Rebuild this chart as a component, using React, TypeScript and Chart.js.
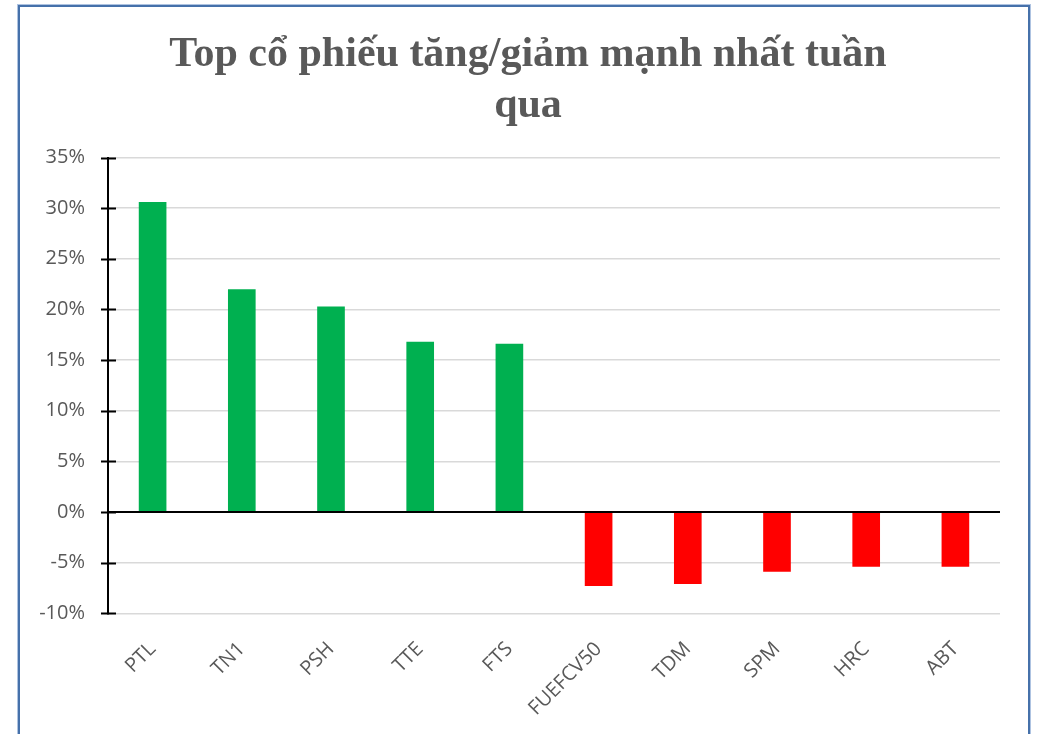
import { useEffect, useRef } from 'react';
import { Chart, registerables } from 'chart.js';

Chart.register(...registerables);

const categories = ['PTL', 'TN1', 'PSH', 'TTE', 'FTS', 'FUEFCV50', 'TDM', 'SPM', 'HRC', 'ABT'];
const changes = [30.6, 22.0, 20.3, 16.8, 16.6, -7.3, -7.1, -5.9, -5.4, -5.4];
const titleLines = ['Top cổ phiếu tăng/giảm mạnh nhất tuần', 'qua'];
const yMin = -10;
const yMax = 35;
const yStep = 5;

const UP = '#00B050';
const DOWN = '#FF0000';
const TEXT = '#595959';
const FONT = '"Open Sans", "Noto Sans", sans-serif';

const tickMarks = {
  id: 'tickMarks',
  afterLayout(chart: any) {
    const t = chart.titleBlock;
    if (t) {
      t.left += 56;
      t.width = t.right - t.left;
    }
  },
  afterDraw(chart: any) {
    const y = chart.scales.y;
    const x0 = chart.chartArea.left;
    const ctx = chart.ctx;
    ctx.save();
    ctx.strokeStyle = '#000';
    ctx.lineWidth = 2;
    y.ticks.forEach((t: any) => {
      const py = Math.round(y.getPixelForValue(t.value)) + 0.5;
      ctx.beginPath();
      ctx.moveTo(x0 - 7, py);
      ctx.lineTo(x0 + 8, py);
      ctx.stroke();
    });
    ctx.restore();
  },
};

export default function App() {
  const ref = useRef<HTMLCanvasElement>(null);
  useEffect(() => {
    if (!ref.current) return;
    const chart = new Chart(ref.current, {
      type: 'bar',
      data: {
        labels: categories,
        datasets: [
          {
            data: changes,
            backgroundColor: changes.map((v) => (v >= 0 ? UP : DOWN)),
            borderWidth: 0,
            barPercentage: 0.31,
            categoryPercentage: 1,
          },
        ],
      },
      options: {
        responsive: false,
        animation: false,
        devicePixelRatio: 1,
        layout: { padding: { left: 0, right: 38, top: 0, bottom: 0 } },
        plugins: {
          legend: { display: false },
          tooltip: { enabled: false },
          title: {
            display: true,
            text: titleLines,
            color: TEXT,
            font: { family: '"Liberation Serif", "Times New Roman", serif', size: 42, weight: 'bold', lineHeight: 51 / 42 },
            padding: { top: 30, bottom: 25.5 },
          },
        },
        scales: {
          x: {
            grid: { display: false, drawTicks: false },
            border: { display: false },
            ticks: {
              color: TEXT,
              font: { family: FONT, size: 20 },
              maxRotation: 45,
              minRotation: 45,
              padding: 24,
              autoSkip: false,
            },
            afterFit: (s: any) => {
              s.height = 120.7;
            },
          },
          y: {
            min: yMin,
            max: yMax,
            grid: {
              drawTicks: false,
              color: (c: any) => (c.tick && c.tick.value === 0 ? '#000000' : '#D9D9D9'),
              lineWidth: (c: any) => (c.tick && c.tick.value === 0 ? 2 : 1.5),
            },
            border: { display: true, color: '#000000', width: 2 },
            ticks: {
              stepSize: yStep,
              color: TEXT,
              font: { family: FONT, size: 20 },
              padding: 23,
              callback: (v: any) => `${v}%`,
            },
            afterFit: (s: any) => {
              s.width = 108;
            },
          },
        },
      },
      plugins: [tickMarks],
    });
    return () => chart.destroy();
  }, []);

  return (
    <div style={{ position: 'fixed', left: 0, top: 0, width: 1038, height: 734, overflow: 'hidden', background: '#fff' }}>
      <canvas ref={ref} width={1038} height={734} style={{ position: 'absolute', left: 0, top: 0 }} />
      <div
        style={{
          position: 'absolute',
          left: 18,
          top: 5,
          width: 1012,
          height: 800,
          boxSizing: 'border-box',
          border: '2px solid #4671AA',
          boxShadow: '0 0 0 1px rgba(120,155,205,0.6)',
          pointerEvents: 'none',
        }}
      />
    </div>
  );
}
